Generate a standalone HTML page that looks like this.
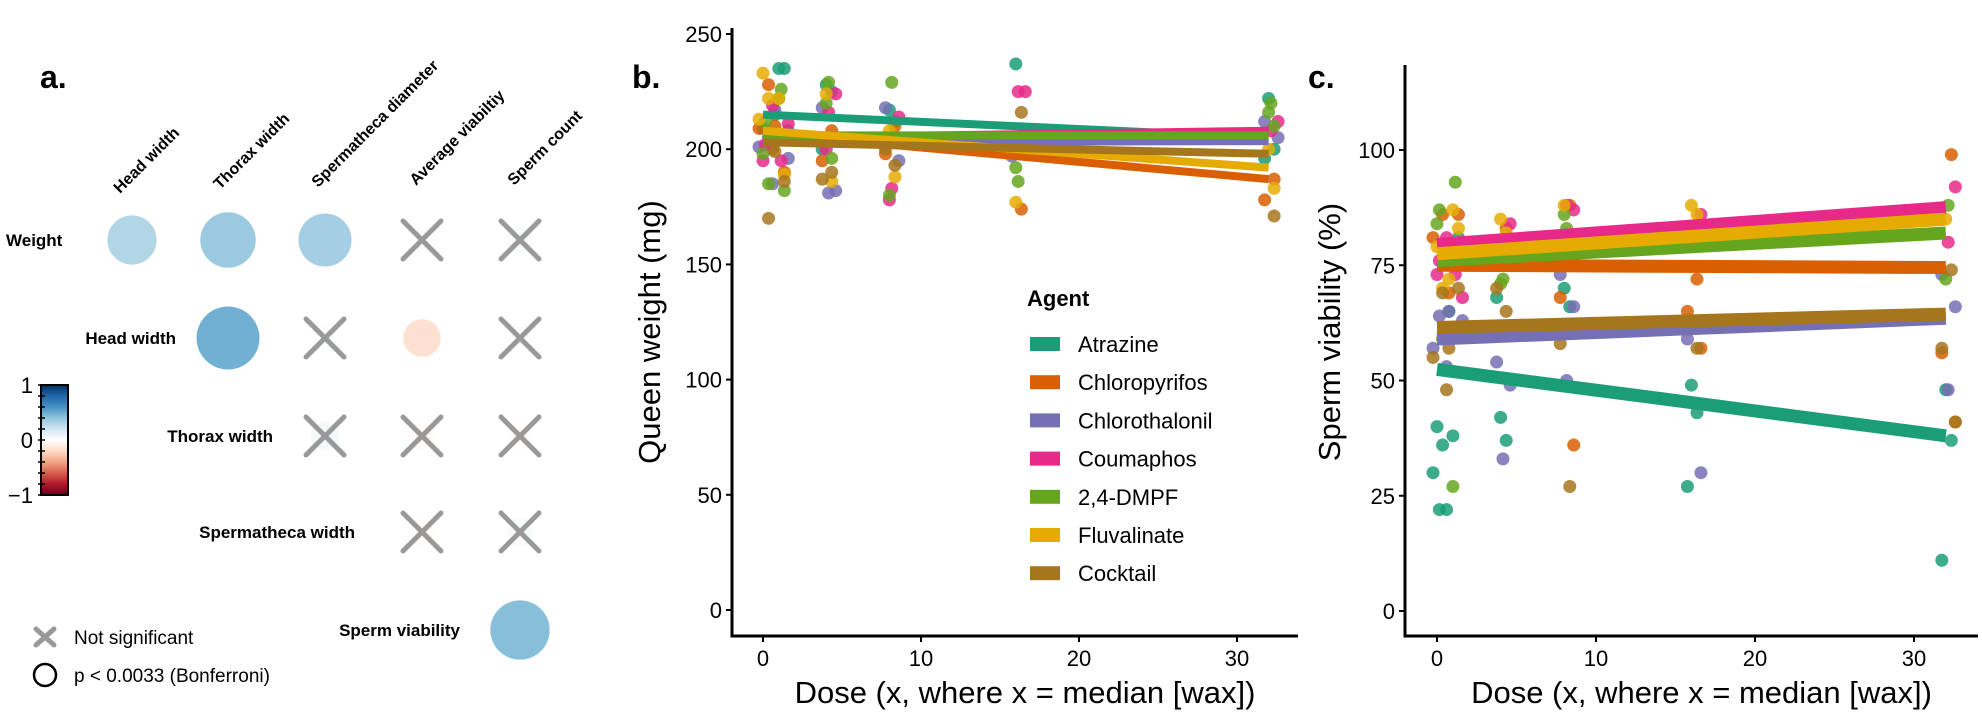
<!DOCTYPE html>
<html><head><meta charset="utf-8"><style>
html,body{margin:0;padding:0;background:#fff;}
svg{display:block;font-family:"Liberation Sans",Arial,sans-serif;}
</style></head><body>
<svg id="fig" width="1982" height="716" viewBox="0 0 1982 716" xmlns="http://www.w3.org/2000/svg">
<defs>
<linearGradient id="cbar" x1="0" y1="0" x2="0" y2="1">
<stop offset="0" stop-color="#053061"/><stop offset="0.1" stop-color="#2166ac"/><stop offset="0.2" stop-color="#4393c3"/><stop offset="0.3" stop-color="#92c5de"/><stop offset="0.4" stop-color="#d1e5f0"/><stop offset="0.5" stop-color="#ffffff"/><stop offset="0.6" stop-color="#fddbc7"/><stop offset="0.7" stop-color="#f4a582"/><stop offset="0.8" stop-color="#d6604d"/><stop offset="0.9" stop-color="#b2182b"/><stop offset="1" stop-color="#67001f"/>
</linearGradient>
</defs>
<g id="panelA">
<text x="40" y="88" font-size="32" font-weight="bold">a.</text>
</g>
<g id="panelB"></g>
<g id="panelC"></g>
</svg>
<script>
// ---------- Panel a data ----------
const colLabels = ["Head width","Thorax width","Spermatheca diameter","Average viabiltiy","Sperm count"];
const rowLabels = ["Weight","Head width","Thorax width","Spermatheca width","Sperm viability"];
// cells: [row, col, correlation, significant]
const corrCells = [
 [0,0,0.38,1],[0,1,0.48,1],[0,2,0.44,1],[0,3,-0.03,0],[0,4,0.08,0],
 [1,1,0.62,1],[1,2,0.02,0],[1,3,-0.22,1],[1,4,0.03,0],
 [2,2,0.12,0],[2,3,-0.05,0],[2,4,-0.04,0],
 [3,3,-0.04,0],[3,4,0.06,0],
 [4,4,0.55,1]
];
// ---------- Panel b/c data ----------
const agents = ["Atrazine","Chloropyrifos","Chlorothalonil","Coumaphos","2,4-DMPF","Fluvalinate","Cocktail"];
const agentColors = ["#1b9e77","#d95f02","#7570b3","#e7298a","#66a61e","#e6ab02","#a6761d"];
const weightStart = [215,207,203,205,206,208,203];
const weightEnd   = [205,187,203.5,208,206,192,198];
const viabStart = [52.4,75,59,79.5,76,77.5,61.5];
const viabEnd   = [38,74.5,63.5,87.5,82,85,64.4];
const doseLevels = [0,1,4,8,16,32];
const xTicks = [0,10,20,30];
const weightTicks = [0,50,100,150,200,250];
const viabTicks = [0,25,50,75,100];
const weightPts = [
 [[209,205],[235,235,215,208],[228,225,200],[217,212],[237,206],[222,200,196]],
 [[228,209,200],[190,210],[208,195],[210,198],[174,200],[187,178]],
 [[201,185],[217,196],[218,182,181],[218,195],[197],[212,205]],
 [[219,202,195],[211,195],[224,216,200],[214,183,178],[225,225],[212,208]],
 [[212,198,185],[226,222,182],[229,220,196],[229,180],[186,192],[220,216,210]],
 [[233,222,213],[222,189],[224,186],[208,188],[177],[200,183]],
 [[170],[186,199],[190,187],[193,200],[216],[171]]
];
const viabPts = [
 [[40,36,30,22,22],[38,81,65],[42,37,68],[70,66],[49,43,27],[48,37,11]],
 [[86,81],[86,69],[83],[88,68,36],[72,65,57],[99,56,41]],
 [[57,53,64],[65,63],[54,49,33],[73,66,50],[59,30],[73,66,48]],
 [[81,76,73],[68,73],[84],[87,88],[86],[92,80]],
 [[87,84,59],[93,27],[72,71],[83,86],[80],[88,72]],
 [[79,70],[87,83,72],[85,82],[88],[88,86],[85]],
 [[69,55,48],[70,57],[65,70],[27,58],[57],[74,57,41]]
];

const NS="http://www.w3.org/2000/svg";
function mk(tag,attrs,parent,text){const e=document.createElementNS(NS,tag);for(const k in attrs)e.setAttribute(k,attrs[k]);if(text!==undefined)e.textContent=text;parent.appendChild(e);return e;}

// ---------- Panel a ----------
const A=document.getElementById('panelA');
const colX=[132,228,325,422,520], rowY=[240,338,436,532,630];
const colLblPos=[[120,194],[220,190],[318,188],[416,186],[514,186]];
colLabels.forEach((t,i)=>{
 const e=mk('text',{x:colLblPos[i][0],y:colLblPos[i][1],'font-size':16,'font-weight':'bold',transform:`rotate(-45 ${colLblPos[i][0]} ${colLblPos[i][1]})`},A,t);
 
 
});
const rowEnds=[null,176,273,355,460];
rowLabels.forEach((t,i)=>{
 const e = i===0 ? mk('text',{x:6,y:rowY[0]+6,'font-size':17,'font-weight':'bold'},A,t)
   : mk('text',{x:rowEnds[i],y:rowY[i]+6,'font-size':17,'font-weight':'bold','text-anchor':'end'},A,t);
 
 
});
function corrColor(r){
 const s=Math.min(1,Math.abs(r)*0.78);
 const pos=[[255,255,255],[209,229,240],[146,197,222],[67,147,195],[33,102,172],[5,48,97]];
 const neg=[[255,255,255],[253,219,199],[244,165,130],[214,96,77],[178,24,43],[103,0,31]];
 const pal=r>=0?pos:neg;const f=s*5;const i=Math.min(4,Math.floor(f));const t=f-i;
 const c=pal[i].map((v,k)=>Math.round(v+(pal[i+1][k]-v)*t));return `rgb(${c[0]},${c[1]},${c[2]})`;
}
corrCells.forEach(c=>{
 const [r,col,v,sig]=c;const cx=colX[col],cy=rowY[r];
 const rad=Math.max(14,Math.sqrt(Math.abs(v))*40);
 const circ=mk('circle',{cx:cx,cy:cy,r:Math.min(32,rad),fill:corrColor(v),opacity:sig?1:0.5},A);
 
 
 if(!sig){
  const g=mk('g',{stroke:'#999',"stroke-width":5,"stroke-linecap":'round'},A);
  
  
  mk('line',{x1:cx-19,y1:cy-19,x2:cx+19,y2:cy+19},g);
  mk('line',{x1:cx-19,y1:cy+19,x2:cx+19,y2:cy-19},g);
 }
});
const cb=mk('rect',{x:41,y:385,width:27,height:110,fill:'url(#cbar)',stroke:'#000','stroke-width':2},A);


for(let i=0;i<=10;i++){mk('line',{x1:38,x2:45,y1:385+i*11,y2:385+i*11,stroke:'#000','stroke-width':1.5},A);}
[["1",393],["0",448],["−1",503]].forEach(p=>{
 const e=mk('text',{x:33,y:p[1],'font-size':22,'text-anchor':'end'},A,p[0]);
 
 
});
const kx=mk('g',{stroke:'#999','stroke-width':5,'stroke-linecap':'round'},A);


mk('line',{x1:36,y1:629,x2:54,y2:645},kx);mk('line',{x1:36,y1:645,x2:54,y2:629},kx);
const k1=mk('text',{x:74,y:644,'font-size':19},A,'Not significant');


const kc=mk('circle',{cx:45,cy:675,r:11,fill:'none',stroke:'#000','stroke-width':2.5},A);


const k2=mk('text',{x:74,y:682,'font-size':19},A,'p < 0.0033 (Bonferroni)');



// ---------- scatter panels ----------
function panel(G,o){
 const xs=d=>o.x0+d*o.xPer, ys=v=>o.y0-v*o.yPer;
 const lbl=mk('text',{x:o.lblX,y:88,'font-size':32,'font-weight':'bold'},G,o.lbl);
 
 
 const ya=mk('line',{x1:o.axX,x2:o.axX,y1:o.axTop,y2:637,stroke:'#000','stroke-width':3},G);
 
 
 const xa=mk('line',{x1:o.axX-1.5,x2:o.axRight,y1:636,y2:636,stroke:'#000','stroke-width':3},G);
 
 
 o.yt.forEach(v=>{
  mk('line',{x1:o.axX-6,x2:o.axX,y1:ys(v),y2:ys(v),stroke:'#000','stroke-width':2},G);
  const t=mk('text',{x:o.axX-10,y:ys(v)+8,'font-size':22,'text-anchor':'end'},G,String(v));
  
  
 });
 xTicks.forEach(v=>{
  mk('line',{x1:xs(v),x2:xs(v),y1:636,y2:642,stroke:'#000','stroke-width':2},G);
  const t=mk('text',{x:xs(v),y:666,'font-size':22,'text-anchor':'middle'},G,String(v));
  
  
 });
 const xt=mk('text',{x:(o.axX+o.axRight)/2+10,y:703,'font-size':31,'text-anchor':'middle'},G,'Dose (x, where x = median [wax])');
 
 
 const yt=mk('text',{x:o.ytX,y:332,'font-size':31,'text-anchor':'middle',transform:`rotate(-90 ${o.ytX} 332)`},G,o.ytitle);
 
 
 o.pts.forEach((byDose,a)=>{
  byDose.forEach((vals,di)=>{
   vals.forEach((v,j)=>{
    const off=[0,0.35,-0.25,0.6,0.15][(j+a)%5];
    const p=mk('circle',{cx:xs(doseLevels[di]+off),cy:ys(v),r:6.5,fill:agentColors[a],opacity:0.85},G);
    
    
   });
  });
 });
 o.start.forEach((s,a)=>{
  const l=mk('line',{x1:xs(0),y1:ys(s),x2:xs(32),y2:ys(o.end[a]),stroke:agentColors[a],'stroke-width':o.lw},G);
  
  
 });
}
const B=document.getElementById('panelB'), C=document.getElementById('panelC');
panel(B,{x0:763,xPer:15.8,y0:610,yPer:2.304,axX:732,axTop:28,axRight:1298,yt:weightTicks,lbl:'b.',lblX:632,ytX:660,ytitle:'Queen weight (mg)',pts:weightPts,start:weightStart,end:weightEnd,lw:8});
panel(C,{x0:1437,xPer:15.9,y0:611,yPer:4.61,axX:1405,axTop:65,axRight:1978,yt:viabTicks,lbl:'c.',lblX:1308,ytX:1340,ytitle:'Sperm viability (%)',pts:viabPts,start:viabStart,end:viabEnd,lw:13});

const L=mk('g',{},B);


const lt=mk('text',{x:1027,y:306,'font-size':22,'font-weight':'bold'},L,'Agent');


agents.forEach((n,i)=>{
 const y=344+i*38.2;
 const sw=mk('rect',{x:1030,y:y-7,width:30,height:14,fill:agentColors[i]},L);
 
 
 const t=mk('text',{x:1078,y:y+8,'font-size':22},L,n);
 
 
});
</script>
</body></html>
